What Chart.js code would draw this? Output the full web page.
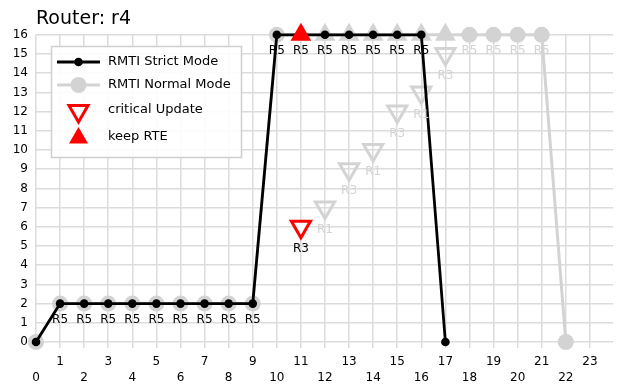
<!DOCTYPE html>
<html>
<head>
<meta charset="utf-8">
<script src="https://cdn.jsdelivr.net/npm/chart.js@4/dist/chart.umd.min.js"></script>
<style>
  html, body { margin: 0; padding: 0; background: #fff; }
  #wrap { width: 628px; height: 387px; }
</style>
</head>
<body>
<div id="wrap"><canvas id="chart"></canvas></div>
<script>
// x tick labels (0..23) and y ticks (0..16)
const xTicks = [0, 1, 2, 3, 4, 5, 6, 7, 8, 9, 10, 11, 12, 13, 14, 15, 16, 17, 18, 19, 20, 21, 22, 23];
const yTicks = [0, 1, 2, 3, 4, 5, 6, 7, 8, 9, 10, 11, 12, 13, 14, 15, 16];

// RMTI Strict Mode
const strictX = [0, 1, 2, 3, 4, 5, 6, 7, 8, 9, 10, 11, 12, 13, 14, 15, 16, 17];
const strictY = [0, 2, 2, 2, 2, 2, 2, 2, 2, 2, 16, 16, 16, 16, 16, 16, 16, 0];
const strictLabels = ['', 'R5', 'R5', 'R5', 'R5', 'R5', 'R5', 'R5', 'R5', 'R5', 'R5', 'R5', 'R5', 'R5', 'R5', 'R5', 'R5', ''];

// RMTI Normal Mode
const normalX = [0, 1, 2, 3, 4, 5, 6, 7, 8, 9, 10, 11, 12, 13, 14, 15, 16, 17, 18, 19, 20, 21, 22];
const normalY = [0, 2, 2, 2, 2, 2, 2, 2, 2, 2, 16, 16, 16, 16, 16, 16, 16, 16, 16, 16, 16, 16, 0];
const normalMarker = [1, 1, 1, 1, 1, 1, 1, 1, 1, 1, 1, 0, 0, 0, 0, 0, 0, 0, 1, 1, 1, 1, 1];
const normalLabels = ['', '', '', '', '', '', '', '', '', '', '', '', '', '', '', '', '', '', 'R5', 'R5', 'R5', 'R5', ''];

// critical Update / keep RTE (normal mode, grey)
const normCritX = [12, 13, 14, 15, 16, 17];
const normCritY = [7, 9, 10, 12, 13, 15];
const normCritLabels = ['R1', 'R3', 'R1', 'R3', 'R1', 'R3'];
const normKeepX = [12, 13, 14, 15, 16, 17];
const normKeepY = [16, 16, 16, 16, 16, 16];

// critical Update / keep RTE (strict mode, red)
const strictCritX = [11];
const strictCritY = [6];
const strictCritLabels = ['R3'];
const strictKeepX = [11];
const strictKeepY = [16];

const pts = (xs, ys) => xs.map((x, i) => ({ x: x, y: ys[i] }));

const GREY = '#d3d3d3';
const FONT = "'DejaVu Sans', sans-serif";

const pointLabelPlugin = {
  id: 'pointLabels',
  afterDatasetsDraw(chart) {
    const ctx = chart.ctx;
    ctx.save();
    ctx.font = '12px ' + FONT;
    ctx.textAlign = 'center';
    ctx.textBaseline = 'middle';
    chart.data.datasets.forEach((ds, di) => {
      if (!ds.pointLabels) return;
      const meta = chart.getDatasetMeta(di);
      ctx.fillStyle = ds.labelColor;
      meta.data.forEach((el, i) => {
        const t = ds.pointLabels[i];
        if (t) ctx.fillText(t, el.x, el.y + ds.labelOffset);
      });
    });
    ctx.restore();
  }
};

const legendPlugin = {
  id: 'boxLegend',
  afterDraw(chart) {
    const ctx = chart.ctx;
    ctx.save();
    ctx.fillStyle = 'rgba(255,255,255,0.9)';
    ctx.strokeStyle = '#d0d0d0';
    ctx.lineWidth = 1.5;
    ctx.beginPath();
    ctx.rect(51.5, 46.5, 190, 111);
    ctx.fill();
    ctx.stroke();

    const x0 = 57, x1 = 100, xc = 78.5, tx = 108;
    const rows = [62, 85, 110, 137];
    // strict
    ctx.strokeStyle = '#000';
    ctx.lineWidth = 3;
    ctx.beginPath(); ctx.moveTo(x0, rows[0]); ctx.lineTo(x1, rows[0]); ctx.stroke();
    ctx.fillStyle = '#000';
    ctx.beginPath(); ctx.arc(xc, rows[0], 4.3, 0, Math.PI * 2); ctx.fill();
    // normal
    ctx.strokeStyle = GREY;
    ctx.beginPath(); ctx.moveTo(x0, rows[1]); ctx.lineTo(x1, rows[1]); ctx.stroke();
    ctx.fillStyle = GREY;
    ctx.beginPath(); ctx.arc(xc, rows[1], 8, 0, Math.PI * 2); ctx.fill();
    // critical (down triangle, open)
    const r = 11;
    const tri = (cx, cy, down) => {
      const s = down ? -1 : 1;
      ctx.beginPath();
      ctx.moveTo(cx, cy - s * r);
      ctx.lineTo(cx + r * Math.sin(Math.PI * 2 / 3), cy + s * r / 2);
      ctx.lineTo(cx - r * Math.sin(Math.PI * 2 / 3), cy + s * r / 2);
      ctx.closePath();
    };
    ctx.strokeStyle = 'red';
    ctx.fillStyle = '#fff';
    ctx.lineWidth = 3;
    tri(xc, rows[2] + 1, true); ctx.fill(); ctx.stroke();
    ctx.fillStyle = 'red';
    tri(xc, rows[3] + 1, false); ctx.fill();

    ctx.fillStyle = '#000';
    ctx.font = '13px ' + FONT;
    ctx.textAlign = 'left';
    ctx.textBaseline = 'middle';
    ['RMTI Strict Mode', 'RMTI Normal Mode', 'critical Update', 'keep RTE'].forEach((t, i) => {
      ctx.fillText(t, tx, rows[i]);
    });
    ctx.restore();
  }
};

new Chart(document.getElementById('chart'), {
  type: 'line',
  data: {
    datasets: [
      {
        label: 'keep RTE',
        data: pts(strictKeepX, strictKeepY),
        showLine: false,
        pointStyle: 'triangle',
        pointRadius: 12,
        pointBackgroundColor: 'red',
        pointBorderColor: 'red',
        pointBorderWidth: 0,
        order: 0,
        clip: false
      },
      {
        label: 'critical Update',
        data: pts(strictCritX, strictCritY),
        showLine: false,
        pointStyle: 'triangle',
        pointRotation: 180,
        pointRadius: 11,
        pointBackgroundColor: '#fff',
        pointBorderColor: 'red',
        pointBorderWidth: 3,
        pointLabels: strictCritLabels,
        labelColor: '#000',
        labelOffset: 22,
        order: 0,
        clip: false
      },
      {
        label: 'RMTI Strict Mode',
        data: pts(strictX, strictY),
        borderColor: '#000',
        borderWidth: 2.8,
        pointRadius: 4.3,
        pointBackgroundColor: '#000',
        pointBorderWidth: 0,
        pointLabels: strictLabels,
        labelColor: '#000',
        labelOffset: 16,
        tension: 0,
        order: 1,
        clip: false
      },
      {
        label: 'keep RTE grey',
        data: pts(normKeepX, normKeepY),
        showLine: false,
        pointStyle: 'triangle',
        pointRadius: 12,
        pointBackgroundColor: GREY,
        pointBorderWidth: 0,
        order: 2,
        clip: false
      },
      {
        label: 'critical Update grey',
        data: pts(normCritX, normCritY),
        showLine: false,
        pointStyle: 'triangle',
        pointRotation: 180,
        pointRadius: 11,
        pointBackgroundColor: 'rgba(0,0,0,0)',
        pointBorderColor: GREY,
        pointBorderWidth: 3,
        pointLabels: normCritLabels,
        labelColor: GREY,
        labelOffset: 22,
        order: 2,
        clip: false
      },
      {
        label: 'RMTI Normal Mode',
        data: pts(normalX, normalY),
        borderColor: GREY,
        borderWidth: 3,
        pointRadius: normalMarker.map(m => m ? 8 : 0),
        pointBackgroundColor: GREY,
        pointBorderWidth: 0,
        pointLabels: normalLabels,
        labelColor: GREY,
        labelOffset: 16,
        tension: 0,
        order: 3,
        clip: false
      }
    ]
  },
  options: {
    responsive: true,
    maintainAspectRatio: false,
    animation: false,
    events: [],
    layout: { padding: { left: 0, right: 15, top: 0, bottom: 0 } },
    plugins: {
      legend: { display: false },
      tooltip: { enabled: false },
      title: {
        display: true,
        text: 'Router: r4',
        align: 'start',
        fullSize: false,
        color: '#000',
        font: { family: FONT, size: 19, weight: 'normal', lineHeight: 1.2 },
        padding: { top: 8, bottom: 4 }
      }
    },
    scales: {
      x: {
        type: 'linear',
        min: 0,
        max: 23.96,
        afterFit: s => { s.height = 45; },
        afterBuildTicks: s => { s.ticks = xTicks.map(v => ({ value: v })); },
        border: { display: false },
        grid: { color: '#dcdcdc', lineWidth: 1.5, tickLength: 6, drawTicks: true },
        ticks: {
          autoSkip: false,
          maxRotation: 0,
          padding: 5,
          color: '#000',
          font: { family: FONT, size: 12, lineHeight: 1.4 },
          callback: v => (v % 2 === 1 ? String(v) : ['', String(v)])
        }
      },
      y: {
        type: 'linear',
        min: 0,
        max: 16,
        afterFit: s => { s.width = 36; },
        afterBuildTicks: s => { s.ticks = yTicks.map(v => ({ value: v })); },
        border: { display: false },
        grid: { color: '#dcdcdc', lineWidth: 1.5, drawTicks: false },
        ticks: {
          padding: 8,
          color: '#000',
          font: { family: FONT, size: 12 },
          callback: v => String(v)
        }
      }
    }
  },
  plugins: [pointLabelPlugin, legendPlugin]
});
</script>
</body>
</html>
